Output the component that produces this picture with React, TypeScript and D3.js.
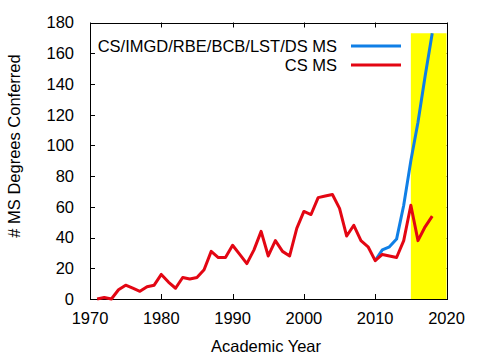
import React, { useEffect, useRef } from 'react'
import * as d3 from 'd3'

// CS MS degrees, one per academic year
const csYears = [
  1971, 1972, 1973, 1974, 1975, 1976, 1977, 1978, 1979, 1980, 1981, 1982, 1983, 1984, 1985, 1986, 1987,
  1988, 1989, 1990, 1991, 1992, 1993, 1994, 1995, 1996, 1997, 1998, 1999, 2000, 2001, 2002, 2003, 2004,
  2005, 2006, 2007, 2008, 2009, 2010, 2011, 2012, 2013, 2014, 2015, 2016, 2017, 2018,
]
const csValues = [
  0, 1, 0, 6, 9, 7, 5, 8, 9, 16, 11, 7, 14, 13, 14, 19, 31,
  27, 27, 35, 29, 23, 32, 44, 28, 38, 31, 28, 46, 57, 55, 66, 67, 68,
  59, 41, 48, 38, 34, 25, 29, 28, 27, 38, 61, 38, 47, 54,
]

// all programs combined
const allYears = [2010, 2011, 2012, 2013, 2014, 2015, 2016, 2017, 2018]
const allValues = [25, 32, 34, 39, 61, 90, 115, 145, 173]

const xTicks = [1970, 1980, 1990, 2000, 2010, 2020]
const yTicks = [0, 20, 40, 60, 80, 100, 120, 140, 160, 180]

const highlightFrom = 2015
const highlightTo = 2020
const highlightTop = 173

const seriesNames = ['CS/IMGD/RBE/BCB/LST/DS MS', 'CS MS']
const seriesColors = ['#0f7fe6', '#e30613']

const Chart = () => {
  const ref = useRef(null)

  useEffect(() => {
    const width = 480
    const height = 360
    const left = 90
    const right = 446.5
    const top = 22.5
    const bottom = 299
    const font = '"Liberation Sans", Arial, sans-serif'
    const fontSize = 16.5
    const tick = 5

    const x = d3.scaleLinear().domain([1970, 2020]).range([left, right])
    const y = d3.scaleLinear().domain([0, 180]).range([bottom, top])

    const svg = d3.select(ref.current)
    svg.selectAll('*').remove()
    svg.attr('width', width).attr('height', height)

    svg.append('rect').attr('width', width).attr('height', height).attr('fill', '#fff')

    // ticks, mirrored on all four sides
    const g = svg.append('g').attr('stroke', '#000').attr('stroke-width', 1)
    xTicks.forEach((t) => {
      const px = Math.round(x(t)) + 0.5
      g.append('line').attr('x1', px).attr('x2', px).attr('y1', bottom).attr('y2', bottom - tick)
      g.append('line').attr('x1', px).attr('x2', px).attr('y1', top).attr('y2', top + tick)
    })
    yTicks.forEach((t) => {
      const py = Math.round(y(t)) + 0.5
      g.append('line').attr('x1', left).attr('x2', left + tick).attr('y1', py).attr('y2', py)
      g.append('line').attr('x1', right).attr('x2', right - tick).attr('y1', py).attr('y2', py)
    })

    // highlighted recent years
    svg
      .append('rect')
      .attr('x', x(highlightFrom))
      .attr('y', y(highlightTop))
      .attr('width', x(highlightTo) - x(highlightFrom))
      .attr('height', y(0) - y(highlightTop))
      .attr('fill', '#ffff00')

    svg
      .append('rect')
      .attr('x', Math.round(left) + 0.5)
      .attr('y', Math.round(top) + 0.5)
      .attr('width', Math.round(right) - Math.round(left))
      .attr('height', Math.round(bottom) - Math.round(top))
      .attr('fill', 'none')
      .attr('stroke', '#000')

    const txt = svg.append('g').attr('font-family', font).attr('font-size', fontSize).attr('fill', '#000')

    txt
      .selectAll('.xt')
      .data(xTicks)
      .join('text')
      .attr('x', (d) => x(d))
      .attr('y', 323.5)
      .attr('text-anchor', 'middle')
      .text((d) => d)

    txt
      .selectAll('.yt')
      .data(yTicks)
      .join('text')
      .attr('x', 74)
      .attr('y', (d) => y(d))
      .attr('dy', '0.36em')
      .attr('text-anchor', 'end')
      .text((d) => d)

    txt
      .append('text')
      .attr('x', 266)
      .attr('y', 352)
      .attr('text-anchor', 'middle')
      .text('Academic Year')

    txt
      .append('text')
      .attr('transform', 'translate(19.5,146) rotate(-90)')
      .attr('text-anchor', 'middle')
      .text('# MS Degrees Conferred')

    const line = d3
      .line()
      .x((d) => x(d[0]))
      .y((d) => y(d[1]))

    const series = [
      d3.zip(allYears, allValues),
      d3.zip(csYears, csValues),
    ]

    // legend
    const legendY = [46, 65]
    seriesNames.forEach((name, i) => {
      txt
        .append('text')
        .attr('x', 337)
        .attr('y', legendY[i])
        .attr('dy', '0.36em')
        .attr('text-anchor', 'end')
        .text(name)
      svg
        .append('line')
        .attr('x1', 351)
        .attr('x2', 401)
        .attr('y1', legendY[i])
        .attr('y2', legendY[i])
        .attr('stroke', seriesColors[i])
        .attr('stroke-width', 3)
    })

    series.forEach((s, i) => {
      svg
        .append('path')
        .attr('d', line(s))
        .attr('fill', 'none')
        .attr('stroke', seriesColors[i])
        .attr('stroke-width', 3)
        .attr('stroke-linejoin', 'round')
    })
  }, [])

  return <svg ref={ref} style={{ position: 'absolute', left: 0, top: 0 }}></svg>
}

export default function App() {
  return <Chart />
}
